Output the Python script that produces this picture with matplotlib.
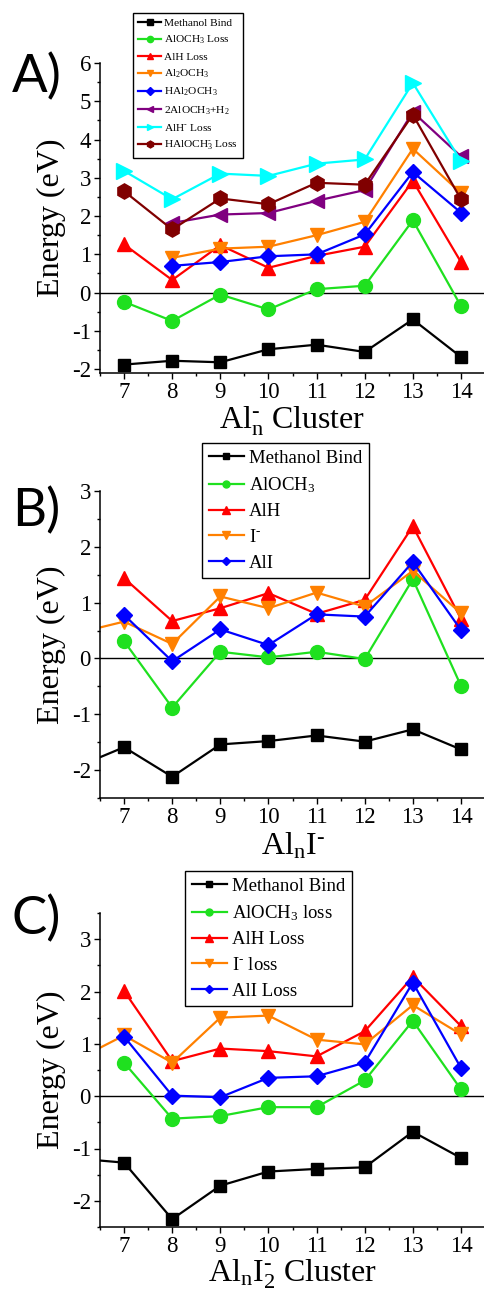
import numpy as np
import matplotlib
matplotlib.use('Agg')
import matplotlib.pyplot as plt
from matplotlib.ticker import MultipleLocator

SERIF = ['Liberation Serif', 'DejaVu Serif']
plt.rcParams['font.family'] = SERIF
plt.rcParams['mathtext.fontset'] = 'custom'
plt.rcParams['mathtext.rm'] = 'Liberation Serif'
plt.rcParams['mathtext.it'] = 'Liberation Serif'
plt.rcParams['mathtext.default'] = 'regular'
plt.rcParams['axes.unicode_minus'] = False

nan = np.nan
HY = '\u2010'  # short hyphen used as the charge sign

# cluster size n (6 is off the left edge but its segment shows)
clusters = [6, 7, 8, 9, 10, 11, 12, 13, 14]

# ---- Panel A: Al_n^- ----
a_labels = ['Methanol Bind', 'AlOCH$_3$ Loss', 'AlH Loss', 'Al$_2$OCH$_3$',
            'HAl$_2$OCH$_3$', '2AlOCH$_3$+H$_2$', 'AlH$^{' + HY + '}$ Loss',
            'HAlOCH$_3^{' + HY + '}$ Loss']
a_methanol = [nan, -1.88, -1.78, -1.82, -1.48, -1.36, -1.55, -0.70, -1.68]
a_alooch3 = [nan, -0.24, -0.74, -0.05, -0.44, 0.09, 0.18, 1.89, -0.35]
a_alh = [nan, 1.26, 0.33, 1.24, 0.65, 0.96, 1.20, 2.92, 0.80]
a_al2och3 = [nan, nan, 0.91, 1.15, 1.20, 1.50, 1.85, 3.76, 2.60]
a_hal2och3 = [nan, nan, 0.70, 0.80, 0.95, 1.00, 1.52, 3.15, 2.09]
a_2alooch3h2 = [nan, nan, 1.82, 2.04, 2.08, 2.40, 2.68, 4.72, 3.56]
a_alhm = [nan, 3.18, 2.44, 3.11, 3.05, 3.37, 3.48, 5.48, 3.44]
a_halooch3m = [nan, 2.65, 1.65, 2.46, 2.31, 2.87, 2.82, 4.65, 2.44]

# ---- Panel B: Al_n I^- ----
b_labels = ['Methanol Bind', 'AlOCH$_3$', 'AlH', 'I$^{' + HY + '}$', 'AlI']
b_methanol = [-1.95, -1.59, -2.12, -1.54, -1.48, -1.38, -1.49, -1.27, -1.63]
b_alooch3 = [nan, 0.31, -0.88, 0.12, 0.02, 0.12, -0.01, 1.42, -0.49]
b_alh = [nan, 1.44, 0.67, 0.90, 1.17, 0.80, 1.05, 2.37, 0.71]
b_iminus = [0.45, 0.66, 0.26, 1.11, 0.90, 1.18, 0.93, 1.57, 0.81]
b_ali = [nan, 0.78, -0.05, 0.52, 0.24, 0.79, 0.75, 1.73, 0.51]

# ---- Panel C: Al_n I_2^- ----
c_labels = ['Methanol Bind', 'AlOCH$_3$ loss', 'AlH Loss', 'I$^{' + HY + '}$ loss', 'AlI Loss']
c_methanol = [-1.19, -1.27, -2.35, -1.71, -1.44, -1.39, -1.36, -0.68, -1.18]
c_alooch3 = [nan, 0.64, -0.43, -0.38, -0.21, -0.21, 0.30, 1.44, 0.13]
c_alh = [nan, 2.01, 0.67, 0.91, 0.86, 0.76, 1.24, 2.28, 1.34]
c_iminus = [0.69, 1.16, 0.64, 1.50, 1.54, 1.08, 0.99, 1.74, 1.18]
c_ali = [nan, 1.14, 0.01, -0.02, 0.35, 0.38, 0.64, 2.17, 0.54]

styles = {
    'black': ('#000000', 's', 9),
    'green': ('#1fe01f', 'o', 10),
    'red': ('#ff0000', '^', 10.5),
    'orange': ('#ff8000', 'v', 10.5),
    'blue': ('#0000ff', 'D', 8.5),
    'purple': ('#800080', '<', 10.5),
    'cyan': ('#00ffff', '>', 11),
    'wine': ('#800000', 'h', 11),
}


def draw_panel(ax, series, labels, keys, ylim, yticks):
    for vals, lab, key in zip(series, labels, keys):
        color, marker, ms = styles[key]
        ax.plot(clusters, vals, color=color, marker=marker, markersize=ms,
                linewidth=1.6, label=lab, markeredgecolor=color)
    ax.axhline(0, color='black', linewidth=1.0, zorder=0)
    ax.set_xlim(6.5, 14.5)
    ax.set_ylim(*ylim)
    ax.set_xticks(range(7, 15))
    ax.set_yticks(yticks)
    ax.xaxis.set_minor_locator(MultipleLocator(0.5))
    ax.yaxis.set_minor_locator(MultipleLocator(0.5))
    ax.tick_params(which='major', direction='out', length=4.5, width=1.0,
                   labelsize=16.5, pad=2)
    ax.tick_params(which='minor', direction='out', length=2.5, width=1.0)
    for lab in ax.get_xticklabels() + ax.get_yticklabels():
        lab.set_family(SERIF)
    for s in ['top', 'right']:
        ax.spines[s].set_visible(False)
    for s in ['left', 'bottom']:
        ax.spines[s].set_linewidth(1.1)
    ax.set_ylabel('Energy (eV)', fontsize=23, labelpad=4, family=SERIF)


fig = plt.figure(figsize=(4.85, 12.94), dpi=100)
W, H = 485.0, 1294.0


def axes_px(left, top, right, bottom):
    return fig.add_axes([left / W, 1 - bottom / H, (right - left) / W, (bottom - top) / H])


def legend_at(ax, x, y, size, mscale, hlen, spacing, bpad):
    fig.legend(*ax.get_legend_handles_labels(), loc='upper left',
               bbox_to_anchor=(x / W, 1 - y / H), borderaxespad=0,
               prop={'family': SERIF, 'size': size},
               markerscale=mscale, handlelength=hlen, handletextpad=0.25,
               labelspacing=spacing, fancybox=False, framealpha=1,
               edgecolor='black', borderpad=bpad)


# Panel A
axA = axes_px(100, 63, 485, 373)
draw_panel(axA,
           [a_methanol, a_alooch3, a_alh, a_al2och3, a_hal2och3, a_2alooch3h2, a_alhm, a_halooch3m],
           a_labels, ['black', 'green', 'red', 'orange', 'blue', 'purple', 'cyan', 'wine'],
           (-2.1, 6.0), range(-2, 7))
axA.set_xlabel(r'Al$_\mathrm{n}^{' + HY + '}$ Cluster', fontsize=23, labelpad=1, family=SERIF)
legend_at(axA, 133, 13, 8.2, 0.45, 2.0, 0.5, 0.45)

# Panel B
axB = axes_px(100, 491, 485, 798)
draw_panel(axB, [b_methanol, b_alooch3, b_alh, b_iminus, b_ali], b_labels,
           ['black', 'green', 'red', 'orange', 'blue'], (-2.5, 3.0), range(-2, 4))
axB.set_xlabel(r'Al$_\mathrm{n}$I$^{' + HY + '}$', fontsize=23, labelpad=2, family=SERIF)
legend_at(axB, 202, 443, 13.5, 0.5, 1.9, 0.45, 0.35)

# Panel C
axC = axes_px(100, 913, 485, 1227)
draw_panel(axC, [c_methanol, c_alooch3, c_alh, c_iminus, c_ali], c_labels,
           ['black', 'green', 'red', 'orange', 'blue'], (-2.5, 3.5), range(-2, 4))
axC.set_xlabel(r'Al$_\mathrm{n}$I$_2^{' + HY + '}$ Cluster', fontsize=23, labelpad=0, family=SERIF)
legend_at(axC, 185, 871, 13.5, 0.5, 1.9, 0.45, 0.35)

# Panel letters
for txt, ypx in [('A)', 92), ('B)', 526), ('C)', 934)]:
    fig.text(12 / W, 1 - ypx / H, txt, fontsize=38, family=['Lato', 'DejaVu Sans'],
             ha='left', va='baseline')

fig.savefig('out.png', dpi=100)
